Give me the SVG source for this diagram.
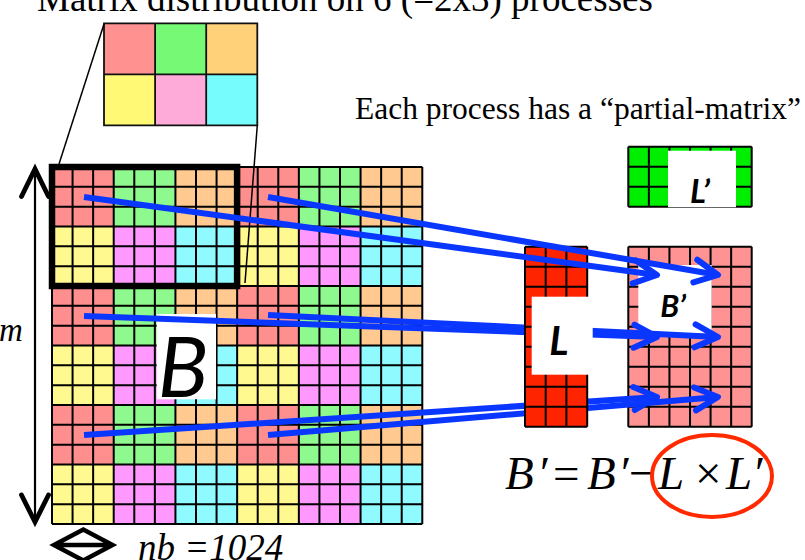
<svg xmlns="http://www.w3.org/2000/svg" width="805" height="560" viewBox="0 0 805 560">
<style>
.r{fill:#FF8F8F}.g{fill:#8EF98E}.o{fill:#FFC98F}.y{fill:#FFF98F}.p{fill:#FF99FF}.c{fill:#8FFAFF}
.grid{fill:none;stroke:#000;stroke-width:2}
.serif{font-family:"Liberation Serif","Times New Roman",serif}
.lbl{font-family:Lato,"Liberation Sans",sans-serif;font-style:italic;font-weight:bold;text-anchor:middle}
.blue{stroke:#0A37FF;stroke-width:6;fill:none;marker-end:url(#ah)}
.thin{stroke:#000;stroke-width:1.5;fill:none}
</style>
<defs>
<marker id="ah" markerUnits="userSpaceOnUse" viewBox="-30 -16 36 32" refX="0" refY="0" markerWidth="36" markerHeight="32" orient="auto" overflow="visible">
<path d="M-23,-11.5 L0,0 L-23,11.5" fill="none" stroke="#0A37FF" stroke-width="6" stroke-linecap="round" stroke-linejoin="round"/>
</marker>
</defs>
<rect width="805" height="560" fill="#fff"/>

<text id="title" class="serif" x="37" y="11" font-size="37">Matrix distribution on 6 (=2x3) processes</text>
<text id="caption" class="serif" x="355" y="119" font-size="31.5">Each process has a “partial-matrix”</text>

<g id="legend">
<rect x="104" y="23.3" width="51.1" height="51" fill="#FF9191"/>
<rect x="155.1" y="23.3" width="51.1" height="51" fill="#76FA76"/>
<rect x="206.2" y="23.3" width="51.1" height="51" fill="#FFD27A"/>
<rect x="104" y="74.3" width="51.1" height="51" fill="#FFF976"/>
<rect x="155.1" y="74.3" width="51.1" height="51" fill="#FFABD9"/>
<rect x="206.2" y="74.3" width="51.1" height="51" fill="#76FCFC"/>
<path d="M104 23.3H257.3V125.3H104Z M155.1 23.3V125.3 M206.2 23.3V125.3 M104 74.3H257.3" fill="none" stroke="#111" stroke-width="1.8"/>
</g>

<g id="matrixB">
<rect class="r" x="52" y="167" width="61.71" height="59.5"/><rect class="g" x="113.71" y="167" width="61.71" height="59.5"/><rect class="o" x="175.42" y="167" width="61.71" height="59.5"/><rect class="r" x="237.13" y="167" width="61.71" height="59.5"/><rect class="g" x="298.84" y="167" width="61.71" height="59.5"/><rect class="o" x="360.55" y="167" width="61.74" height="59.5"/>
<rect class="y" x="52" y="226.5" width="61.71" height="59.5"/><rect class="p" x="113.71" y="226.5" width="61.71" height="59.5"/><rect class="c" x="175.42" y="226.5" width="61.71" height="59.5"/><rect class="y" x="237.13" y="226.5" width="61.71" height="59.5"/><rect class="p" x="298.84" y="226.5" width="61.71" height="59.5"/><rect class="c" x="360.55" y="226.5" width="61.74" height="59.5"/>
<rect class="r" x="52" y="286" width="61.71" height="59.5"/><rect class="g" x="113.71" y="286" width="61.71" height="59.5"/><rect class="o" x="175.42" y="286" width="61.71" height="59.5"/><rect class="r" x="237.13" y="286" width="61.71" height="59.5"/><rect class="g" x="298.84" y="286" width="61.71" height="59.5"/><rect class="o" x="360.55" y="286" width="61.74" height="59.5"/>
<rect class="y" x="52" y="345.5" width="61.71" height="59.5"/><rect class="p" x="113.71" y="345.5" width="61.71" height="59.5"/><rect class="c" x="175.42" y="345.5" width="61.71" height="59.5"/><rect class="y" x="237.13" y="345.5" width="61.71" height="59.5"/><rect class="p" x="298.84" y="345.5" width="61.71" height="59.5"/><rect class="c" x="360.55" y="345.5" width="61.74" height="59.5"/>
<rect class="r" x="52" y="405" width="61.71" height="59.5"/><rect class="g" x="113.71" y="405" width="61.71" height="59.5"/><rect class="o" x="175.42" y="405" width="61.71" height="59.5"/><rect class="r" x="237.13" y="405" width="61.71" height="59.5"/><rect class="g" x="298.84" y="405" width="61.71" height="59.5"/><rect class="o" x="360.55" y="405" width="61.74" height="59.5"/>
<rect class="y" x="52" y="464.5" width="61.71" height="59.5"/><rect class="p" x="113.71" y="464.5" width="61.71" height="59.5"/><rect class="c" x="175.42" y="464.5" width="61.71" height="59.5"/><rect class="y" x="237.13" y="464.5" width="61.71" height="59.5"/><rect class="p" x="298.84" y="464.5" width="61.71" height="59.5"/><rect class="c" x="360.55" y="464.5" width="61.74" height="59.5"/>
<path class="grid" d="M52 167V524M72.57 167V524M93.14 167V524M113.71 167V524M134.29 167V524M154.86 167V524M175.43 167V524M196 167V524M216.57 167V524M237.14 167V524M257.71 167V524M278.29 167V524M298.86 167V524M319.43 167V524M340 167V524M360.57 167V524M381.14 167V524M401.71 167V524M422.29 167V524
M52 167H422.29M52 186.83H422.29M52 206.67H422.29M52 226.5H422.29M52 246.33H422.29M52 266.17H422.29M52 286H422.29M52 305.83H422.29M52 325.67H422.29M52 345.5H422.29M52 365.33H422.29M52 385.17H422.29M52 405H422.29M52 424.83H422.29M52 444.67H422.29M52 464.5H422.29M52 484.33H422.29M52 504.17H422.29M52 524H422.29"/>
<rect x="156.7" y="314" width="59.3" height="85.3" fill="#fff"/>
<text x="183" y="397" font-family="Lato,'Liberation Sans',sans-serif" font-style="italic" font-size="84" text-anchor="middle">B</text>
</g>

<g id="zoomlines">
<path class="thin" d="M104 24L59 164"/>
<path class="thin" d="M257.3 125.3L245 283"/>
</g>
<rect id="selection" x="52" y="167" width="185.1" height="119" fill="none" stroke="#000" stroke-width="6.5"/>

<g id="dimM">
<path d="M35 170V520" stroke="#000" stroke-width="2.2" fill="none"/>
<path d="M21.5 196.5L35 169L48.5 196.5M21.5 495L35 522L48.5 495" stroke="#000" stroke-width="4.8" fill="none" stroke-linecap="round" stroke-linejoin="miter"/>
<text class="serif" x="-1" y="341" font-size="33" font-style="italic">m</text>
</g>

<g id="dimNb">
<path d="M54 545L83.3 529.5L112.5 545L83.3 560.5Z M54 545H112.5" stroke="#000" stroke-width="4.5" fill="none" stroke-linejoin="miter"/>
<text class="serif" x="138" y="560" font-size="37" font-style="italic">nb =1024</text>
</g>

<g id="matrixLp">
<rect x="628.3" y="146.7" width="123.4" height="60" fill="#00EE00"/>
<path class="grid" d="M628.3 146.7H751.7M628.3 166.7H751.7M628.3 186.7H751.7M628.3 206.7H751.7M628.3 146.7V206.7M648.87 146.7V206.7M669.44 146.7V206.7M690.01 146.7V206.7M710.58 146.7V206.7M731.15 146.7V206.7M751.7 146.7V206.7"/>
<rect x="668" y="150.7" width="68" height="56.5" fill="#fff"/>
<text class="lbl" x="700" y="203" font-size="33">L’</text>
</g>

<g id="matrixBp">
<rect x="628.3" y="246.7" width="123.4" height="180" fill="#FF9393"/>
<path class="grid" d="M628.3 246.7V426.7M648.87 246.7V426.7M669.44 246.7V426.7M690.01 246.7V426.7M710.58 246.7V426.7M731.15 246.7V426.7M751.7 246.7V426.7
M628.3 246.7H751.7M628.3 266.7H751.7M628.3 286.7H751.7M628.3 306.7H751.7M628.3 326.7H751.7M628.3 346.7H751.7M628.3 366.7H751.7M628.3 386.7H751.7M628.3 406.7H751.7M628.3 426.7H751.7"/>
<rect x="638.3" y="265" width="73.4" height="68.3" fill="#fff"/>
<text class="lbl" x="673" y="317" font-size="31">B’</text>
</g>

<g id="connectors">
<line class="blue" x1="84" y1="316" x2="657" y2="337"/>
<line class="blue" x1="268" y1="315" x2="718" y2="337"/>
<line class="blue" x1="84" y1="435" x2="657" y2="397"/>
<line class="blue" x1="268" y1="435" x2="718" y2="397"/>
</g>

<g id="matrixL">
<rect x="525" y="246.7" width="62.2" height="180" fill="#FF2400"/>
<path class="grid" d="M525 246.7V426.7M545.7 246.7V426.7M566.4 246.7V426.7M587.2 246.7V426.7
M525 246.7H587.2M525 266.7H587.2M525 286.7H587.2M525 306.7H587.2M525 326.7H587.2M525 346.7H587.2M525 366.7H587.2M525 386.7H587.2M525 406.7H587.2M525 426.7H587.2"/>
<rect x="531.7" y="296.7" width="61" height="78" fill="#fff"/>
<text class="lbl" x="559" y="355" font-size="40">L</text>
</g>

<g id="connectors-top">
<line class="blue" x1="84" y1="197" x2="657" y2="275"/>
<line class="blue" x1="268" y1="197" x2="718" y2="275"/>
</g>

<g id="equation">
<text class="serif" font-size="47" y="489">
<tspan x="505" font-style="italic">B</tspan><tspan x="540">′</tspan><tspan x="553">=</tspan><tspan x="587" font-style="italic">B</tspan><tspan x="621">′</tspan><tspan x="629">−</tspan><tspan x="658" font-style="italic">L</tspan><tspan x="695">×</tspan><tspan x="726" font-style="italic">L</tspan><tspan x="755">′</tspan>
</text>
<ellipse cx="712" cy="476" rx="60" ry="41" fill="none" stroke="#FF2A00" stroke-width="4"/>
</g>
</svg>
